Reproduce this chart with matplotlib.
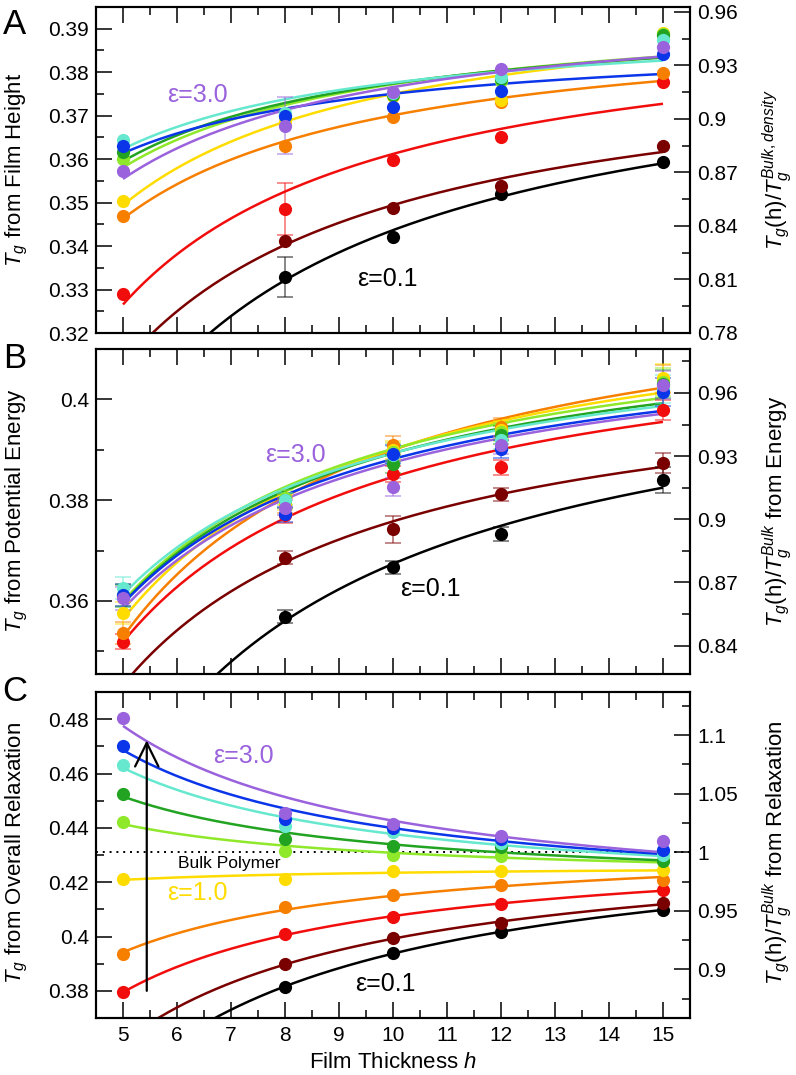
import numpy as np
import matplotlib
matplotlib.use('Agg')
import matplotlib.pyplot as plt
from matplotlib.ticker import MultipleLocator, FuncFormatter

plt.rcParams['font.family'] = ['Liberation Sans', 'DejaVu Sans']
plt.rcParams['mathtext.fontset'] = 'custom'
plt.rcParams['mathtext.rm'] = 'Liberation Sans'
plt.rcParams['mathtext.it'] = 'Liberation Sans:italic'
plt.rcParams['mathtext.bf'] = 'Liberation Sans:bold'

nan = np.nan

# ---------------- data ----------------
h = np.array([5, 8, 10, 12, 15])

series_names = ["black", "maroon", "red", "orange", "yellow",
                "lightgreen", "green", "turquoise", "blue", "purple"]
colors = ["#000000", "#7a0000", "#f20d0d", "#f77f00", "#ffdc00",
          "#8fe82a", "#22a322", "#66e8cf", "#0a35e8", "#9a62dc"]

# Panel A: Tg from film height
A_black      = [nan,    0.3329, 0.3420, 0.3520, 0.3593]
A_maroon     = [nan,    0.3411, 0.3488, 0.3539, 0.3631]
A_red        = [0.3289, 0.3485, 0.3599, 0.3650, 0.3777]
A_orange     = [0.3470, 0.3631, 0.3696, 0.3731, 0.3798]
A_yellow     = [0.3503, 0.3685, 0.3745, 0.3735, 0.3890]
A_lightgreen = [0.3600, 0.3700, 0.3750, 0.3780, 0.3888]
A_green      = [0.3616, 0.3702, 0.3748, 0.3785, 0.3885]
A_turquoise  = [0.3645, 0.3705, 0.3752, 0.3790, 0.3873]
A_blue       = [0.3630, 0.3700, 0.3721, 0.3756, 0.3842]
A_purple     = [0.3572, 0.3677, 0.3755, 0.3808, 0.3858]
A_err_black  = [0, 0.0046, 0, 0, 0]
A_err_red    = [0, 0.0060, 0, 0, 0]
A_err_purple = [0, 0.0065, 0, 0, 0]

# Panel B: Tg from potential energy
B_black      = [nan,    0.3569, 0.3667, 0.3732, 0.3840]
B_maroon     = [nan,    0.3686, 0.3742, 0.3812, 0.3873]
B_red        = [0.3519, 0.3770, 0.3852, 0.3865, 0.3979]
B_orange     = [0.3536, 0.3790, 0.3909, 0.3945, 0.4040]
B_yellow     = [0.3576, 0.3795, 0.3900, 0.3940, 0.4042]
B_lightgreen = [0.3612, 0.3805, 0.3895, 0.3935, 0.4035]
B_green      = [0.3610, 0.3800, 0.3872, 0.3930, 0.4030]
B_turquoise  = [0.3626, 0.3800, 0.3890, 0.3920, 0.4020]
B_blue       = [0.3612, 0.3772, 0.3892, 0.3902, 0.4015]
B_purple     = [0.3605, 0.3785, 0.3826, 0.3910, 0.4029]
B_err_black  = [nan,    0.0013, 0.0013, 0.0014, 0.0025]
B_err_maroon = [nan,    0.0013, 0.0027, 0.0013, 0.0020]
B_err_red    = [0.0015, 0.0015, 0.0015, 0.0015, 0.0020]
B_err_other  = [0.0022, 0.0015, 0.0018, 0.0018, 0.0028]

# Panel C: Tg from overall relaxation
C_black      = [nan,    0.3815, 0.3940, 0.4017, 0.4097]
C_maroon     = [nan,    0.3898, 0.3994, 0.4048, 0.4123]
C_red        = [0.3794, 0.4009, 0.4072, 0.4119, 0.4171]
C_orange     = [0.3937, 0.4107, 0.4152, 0.4189, 0.4209]
C_yellow     = [0.4213, 0.4213, 0.4242, 0.4242, 0.4244]
C_lightgreen = [0.4423, 0.4315, 0.4301, 0.4297, 0.4283]
C_green      = [0.4524, 0.4360, 0.4334, 0.4330, 0.4279]
C_turquoise  = [0.4632, 0.4407, 0.4383, 0.4346, 0.4301]
C_blue       = [0.4702, 0.4432, 0.4401, 0.4358, 0.4318]
C_purple     = [0.4804, 0.4454, 0.4414, 0.4371, 0.4350]

bulk_A = 0.4103
bulk_B = 0.418
bulk_C = 0.431

A_data = [A_black, A_maroon, A_red, A_orange, A_yellow,
          A_lightgreen, A_green, A_turquoise, A_blue, A_purple]
A_errs = [A_err_black, None, A_err_red, None, None, None, None, None, None, A_err_purple]
B_data = [B_black, B_maroon, B_red, B_orange, B_yellow,
          B_lightgreen, B_green, B_turquoise, B_blue, B_purple]
B_errs = [B_err_black, B_err_maroon, B_err_red] + [B_err_other] * 7
C_data = [C_black, C_maroon, C_red, C_orange, C_yellow,
          C_lightgreen, C_green, C_turquoise, C_blue, C_purple]
C_errs = [None] * 10

# ---------------- figure ----------------
fig = plt.figure(figsize=(7.96, 10.75), dpi=100)
L, W = 96 / 796, 594 / 796
axA = fig.add_axes([L, 1 - 333 / 1075, W, 326 / 1075])
axB = fig.add_axes([L, 1 - 674 / 1075, W, 325 / 1075])
axC = fig.add_axes([L, 1 - 1018 / 1075, W, 326 / 1075])


def fmt(v, pos):
    s = f"{v:.3f}".rstrip('0').rstrip('.')
    return s


def fit_curve(y):
    y = np.asarray(y, dtype=float)
    m = ~np.isnan(y)
    b, a = np.polyfit(1.0 / h[m], y[m], 1)
    hh = np.linspace(5, 15, 300)
    return hh, a + b / hh


def draw(ax, data, errs):
    for y, c in zip(data, colors):
        hh, yy = fit_curve(y)
        ax.plot(hh, yy, color=c, lw=1.8, zorder=2, solid_capstyle='butt')
    for y, e, c in zip(data, errs, colors):
        if e is None:
            continue
        y = np.asarray(y, dtype=float)
        e = np.asarray(e, dtype=float)
        idx = (~np.isnan(y)) & (~np.isnan(e)) & (e > 0)
        if idx.any():
            ax.errorbar(h[idx], y[idx], yerr=e[idx], fmt='none', ecolor=c,
                        alpha=0.55, capsize=6, elinewidth=1.2, capthick=1.2,
                        zorder=2.5)
    for y, c in zip(data, colors):
        ax.plot(h, y, 'o', color=c, ms=9.5, mec='none', zorder=3)


def setup(ax, ylim, maj, mnr, bulk, rmaj, rmnr, xlabels):
    ax.set_xlim(4.5, 15.5)
    ax.set_ylim(*ylim)
    ax.xaxis.set_major_locator(MultipleLocator(1))
    ax.xaxis.set_minor_locator(MultipleLocator(0.5))
    ax.yaxis.set_major_locator(MultipleLocator(maj))
    ax.yaxis.set_minor_locator(MultipleLocator(mnr))
    ax.yaxis.set_major_formatter(FuncFormatter(fmt))
    ax2 = ax.twinx()
    ax2.set_ylim(ylim[0] / bulk, ylim[1] / bulk)
    ax2.yaxis.set_major_locator(MultipleLocator(rmaj))
    ax2.yaxis.set_minor_locator(MultipleLocator(rmnr))
    ax2.yaxis.set_major_formatter(FuncFormatter(fmt))
    for a in (ax, ax2):
        for s in a.spines.values():
            s.set_linewidth(1.5)
    ax.tick_params(axis='x', which='both', direction='in', top=True, bottom=True,
                   labelbottom=xlabels, labelsize=15, pad=6)
    ax.tick_params(axis='y', which='both', direction='in', left=True, right=False,
                   labelsize=15, pad=5)
    ax.tick_params(which='major', length=11.5, width=1.1)
    ax.tick_params(which='minor', length=5.8, width=1.1)
    ax2.tick_params(axis='y', which='both', direction='in', right=True, left=False,
                    labelsize=15, pad=5)
    ax2.tick_params(which='major', length=11.5, width=1.1)
    ax2.tick_params(which='minor', length=5.8, width=1.1)
    return ax2


draw(axA, A_data, A_errs)
draw(axB, B_data, B_errs)
axC.axhline(bulk_C, color='k', ls=(0, (1, 2.5)), lw=1.4, zorder=1)
draw(axC, C_data, C_errs)

setup(axA, (0.32, 0.395), 0.01, 0.005, bulk_A, 0.03, 0.015, False)
setup(axB, (0.3455, 0.41), 0.02, 0.01, bulk_B, 0.03, 0.015, False)
setup(axC, (0.37, 0.49), 0.02, 0.01, bulk_C, 0.05, 0.025, True)

purple = colors[-1]
eps_fs = 18
axA.text(5.81, 0.3748, 'ε=3.0', color=purple, fontsize=eps_fs, va='center', ha='left')
axA.text(9.33, 0.3325, 'ε=0.1', color='k', fontsize=eps_fs, va='center', ha='left')
axB.text(7.63, 0.3889, 'ε=3.0', color=purple, fontsize=eps_fs, va='center', ha='left')
axB.text(10.13, 0.3624, 'ε=0.1', color='k', fontsize=eps_fs, va='center', ha='left')
axC.text(6.67, 0.4665, 'ε=3.0', color=purple, fontsize=eps_fs, va='center', ha='left')
axC.text(5.81, 0.4161, 'ε=1.0', color=colors[4], fontsize=eps_fs, va='center', ha='left')
axC.text(9.30, 0.3825, 'ε=0.1', color='k', fontsize=eps_fs, va='center', ha='left')
axC.text(6.02, 0.4267, 'Bulk Polymer', color='k', fontsize=12.5, va='center', ha='left')
axC.annotate('', xy=(5.44, 0.4722), xytext=(5.44, 0.380),
             arrowprops=dict(arrowstyle='->,head_length=0.85,head_width=0.42',
                             lw=1.6, color='k', mutation_scale=20,
                             shrinkA=0, shrinkB=0), zorder=4)

# panel letters
for lab, yc in (('A', 24.5), ('B', 359), ('C', 691.5)):
    fig.text(15 / 796, 1 - yc / 1075, lab, fontsize=25, ha='center', va='center')

# axis labels
lab_fs = 16
fig.text(17 / 796, 1 - 170 / 1075, r'$T_g$ from Film Height', rotation=90,
         fontsize=lab_fs, ha='center', va='center')
fig.text(17 / 796, 1 - 511 / 1075, r'$T_g$ from Potential Energy', rotation=90,
         fontsize=lab_fs, ha='center', va='center')
fig.text(17 / 796, 1 - 853 / 1075, r'$T_g$ from Overall Relaxation', rotation=90,
         fontsize=lab_fs, ha='center', va='center')
fig.text(777 / 796, 1 - 170 / 1075, r'$T_g$(h)/$T_g^{Bulk,density}$', rotation=90,
         fontsize=lab_fs, ha='center', va='center')
fig.text(777 / 796, 1 - 511 / 1075, r'$T_g$(h)/$T_g^{Bulk}$ from Energy', rotation=90,
         fontsize=lab_fs, ha='center', va='center')
fig.text(777 / 796, 1 - 853 / 1075, r'$T_g$(h)/$T_g^{Bulk}$ from Relaxation', rotation=90,
         fontsize=lab_fs, ha='center', va='center')
fig.text(393 / 796, 1 - 1062 / 1075, r'Film Thickness $h$', fontsize=lab_fs,
         ha='center', va='center')

fig.savefig('out.png', dpi=100)
